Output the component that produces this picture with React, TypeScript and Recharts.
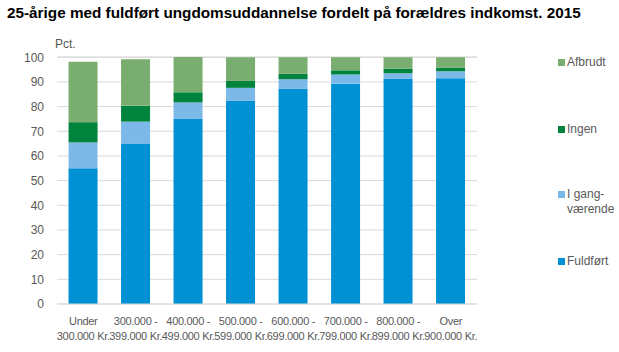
import { Bar, BarChart, CartesianGrid, Legend, XAxis, YAxis } from "recharts";

const categories = [
	"Under\n300.000 Kr.",
	"300.000 -\n399.000 Kr.",
	"400.000 -\n499.000 Kr.",
	"500.000 -\n599.000 Kr.",
	"600.000 -\n699.000 Kr.",
	"700.000 -\n799.000 Kr.",
	"800.000 -\n899.000 Kr.",
	"Over\n900.000 Kr.",
];

const fuldfort = [55, 65, 75, 82.3, 87.2, 89.3, 91.2, 91.5];
const igang = [10.5, 8.9, 6.7, 5.3, 3.9, 3.7, 2.3, 2.8];
const ingen = [8.2, 6.4, 4.1, 2.8, 2.2, 1.7, 1.8, 1.5];
const afbrudt = [24.5, 18.9, 14.3, 9.6, 6.7, 5.3, 4.7, 4.2];

const yTicks = [0, 10, 20, 30, 40, 50, 60, 70, 80, 90, 100];

const series = [
	{ key: "fuldfort", name: "Fuldført", color: "#0090d4" },
	{ key: "igang", name: "I gang-\nværende", color: "#7cb9e8" },
	{ key: "ingen", name: "Ingen", color: "#00843d" },
	{ key: "afbrudt", name: "Afbrudt", color: "#7aad70" },
];

const data = categories.map((c, i) => ({
	cat: c,
	fuldfort: fuldfort[i],
	igang: igang[i],
	ingen: ingen[i],
	afbrudt: afbrudt[i],
}));

const FONT = "'Liberation Sans', Arial, sans-serif";
const TEXT = "#595959";

// legend rows from top to bottom, offsets match the reference
const legendTops = [-1, 66, 131, 198];

function XTick(props: any) {
	const { x, y, payload } = props;
	const lines = String(payload.value).split("\n");
	return (
		<text x={x} y={y} textAnchor="middle" fill={TEXT} fontSize={11} letterSpacing={-0.3} fontFamily={FONT}>
			{lines.map((l, i) => (
				<tspan key={i} x={x} dy={i === 0 ? 13 : 15}>
					{l}
				</tspan>
			))}
		</text>
	);
}

function LegendBox() {
	const items = [...series].reverse();
	return (
		<div style={{ position: "relative", width: 70, height: 230, fontFamily: FONT, fontSize: 12, color: TEXT }}>
			{items.map((s, i) => (
				<div key={s.key} style={{ position: "absolute", top: legendTops[i], left: 0, display: "flex", lineHeight: "15px" }}>
					<span style={{ width: 7, height: 7, background: s.color, marginTop: 4, marginRight: 2, flex: "none" }} />
					<span style={{ whiteSpace: "pre" }}>{s.name}</span>
				</div>
			))}
		</div>
	);
}

export default function App() {
	return (
		<div style={{ position: "absolute", left: 0, top: 0, width: 619, height: 352, background: "#fff" }}>
			<div
				style={{
					position: "absolute",
					left: 7,
					top: 4,
					fontFamily: FONT,
					fontWeight: "bold",
					fontSize: 15.3,
					color: "#000",
					whiteSpace: "nowrap",
				}}
			>
				25-årige med fuldført ungdomsuddannelse fordelt på forældres indkomst. 2015
			</div>
			<div style={{ position: "absolute", left: 55, top: 37, fontFamily: FONT, fontSize: 12, color: TEXT }}>
				Pct.
			</div>
			<BarChart
				width={619}
				height={352}
				data={data}
				margin={{ top: 57, right: 72, bottom: 0, left: 0 }}
				barCategoryGap="22%"
			>
				<CartesianGrid vertical={false} stroke="#d9d9d9" />
				<XAxis
					dataKey="cat"
					height={48}
					tick={<XTick />}
					tickLine={false}
					axisLine={{ stroke: "#d9d9d9" }}
					interval={0}
				/>
				<YAxis
					width={57}
					domain={[0, 100]}
					ticks={yTicks}
					tickLine={false}
					axisLine={false}
					tickMargin={7}
					tick={{ fill: TEXT, fontSize: 12, fontFamily: FONT }}
				/>
				<Legend
					layout="vertical"
					align="right"
					verticalAlign="top"
					wrapperStyle={{ top: 56, left: 558, width: 70 }}
					content={() => <LegendBox />}
				/>
				{series.map((s) => (
					<Bar key={s.key} dataKey={s.key} name={s.name} stackId="a" fill={s.color} isAnimationActive={false} />
				))}
			</BarChart>
		</div>
	);
}
